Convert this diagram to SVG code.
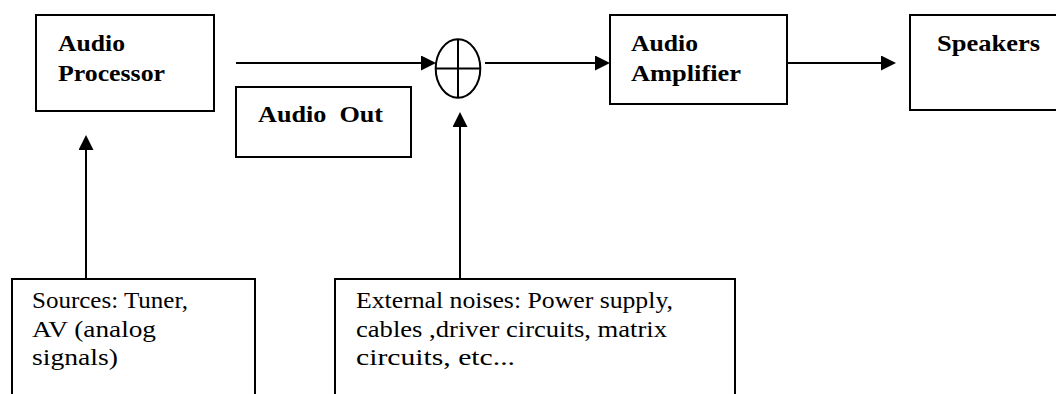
<svg xmlns="http://www.w3.org/2000/svg" width="1056" height="394" viewBox="0 0 1056 394">
<style>
.box{fill:#fff;stroke:#000;stroke-width:2}
.b{font-family:"Liberation Serif","Times New Roman",serif;font-weight:bold;font-size:24px;fill:#000}
.r{font-family:"Liberation Serif","Times New Roman",serif;font-size:24px;fill:#000}
.ln{stroke:#000;stroke-width:2;fill:none}
</style>
<defs>
<marker id="ah" markerUnits="userSpaceOnUse" markerWidth="16" markerHeight="16" refX="5" refY="7.5" orient="auto">
<path d="M0,0 L15,7.5 L0,15 z" fill="#000"/>
</marker>
</defs>
<rect width="1056" height="394" fill="#fff"/>
<g id="connectors">
<line class="ln" x1="236" y1="63" x2="426" y2="63" marker-end="url(#ah)"/>
<line class="ln" x1="485" y1="63" x2="600" y2="63" marker-end="url(#ah)"/>
<line class="ln" x1="787" y1="63" x2="886" y2="63" marker-end="url(#ah)"/>
<line class="ln" x1="86" y1="278" x2="86" y2="145" marker-end="url(#ah)"/>
<line class="ln" x1="460" y1="278" x2="460" y2="122" marker-end="url(#ah)"/>
</g>
<g id="audio-processor">
<rect class="box" x="36" y="15" width="178" height="96"/>
<text class="b" x="58" y="51" textLength="67" lengthAdjust="spacingAndGlyphs">Audio</text>
<text class="b" x="58" y="81" textLength="107" lengthAdjust="spacingAndGlyphs">Processor</text>
</g>
<g id="audio-out">
<rect class="box" x="236" y="87" width="175" height="70"/>
<text class="b" x="258" y="122" xml:space="preserve" textLength="125" lengthAdjust="spacingAndGlyphs">Audio  Out</text>
</g>
<g id="summer">
<ellipse class="box" cx="458" cy="68.5" rx="22.3" ry="29.3"/>
<line class="ln" x1="435.7" y1="68.5" x2="480.3" y2="68.5"/>
<line class="ln" x1="458" y1="39.2" x2="458" y2="97.8"/>
</g>
<g id="audio-amplifier">
<rect class="box" x="610" y="15" width="177" height="89"/>
<text class="b" x="631" y="51" textLength="67" lengthAdjust="spacingAndGlyphs">Audio</text>
<text class="b" x="631" y="81" textLength="110" lengthAdjust="spacingAndGlyphs">Amplifier</text>
</g>
<g id="speakers">
<rect class="box" x="910" y="15" width="160" height="95"/>
<text class="b" x="937" y="51" textLength="103" lengthAdjust="spacingAndGlyphs">Speakers</text>
</g>
<g id="sources">
<rect class="box" x="12" y="279" width="243" height="130"/>
<text class="r" x="32" y="308" textLength="156" lengthAdjust="spacingAndGlyphs">Sources: Tuner,</text>
<text class="r" x="32" y="337" textLength="124" lengthAdjust="spacingAndGlyphs">AV (analog</text>
<text class="r" x="32" y="365" textLength="86" lengthAdjust="spacingAndGlyphs">signals)</text>
</g>
<g id="external-noises">
<rect class="box" x="335" y="279" width="400" height="130"/>
<text class="r" x="356" y="308" textLength="317" lengthAdjust="spacingAndGlyphs">External noises: Power supply,</text>
<text class="r" x="356" y="337" textLength="311" lengthAdjust="spacingAndGlyphs">cables ,driver circuits, matrix</text>
<text class="r" x="356" y="365" textLength="159" lengthAdjust="spacingAndGlyphs">circuits, etc...</text>
</g>
</svg>
